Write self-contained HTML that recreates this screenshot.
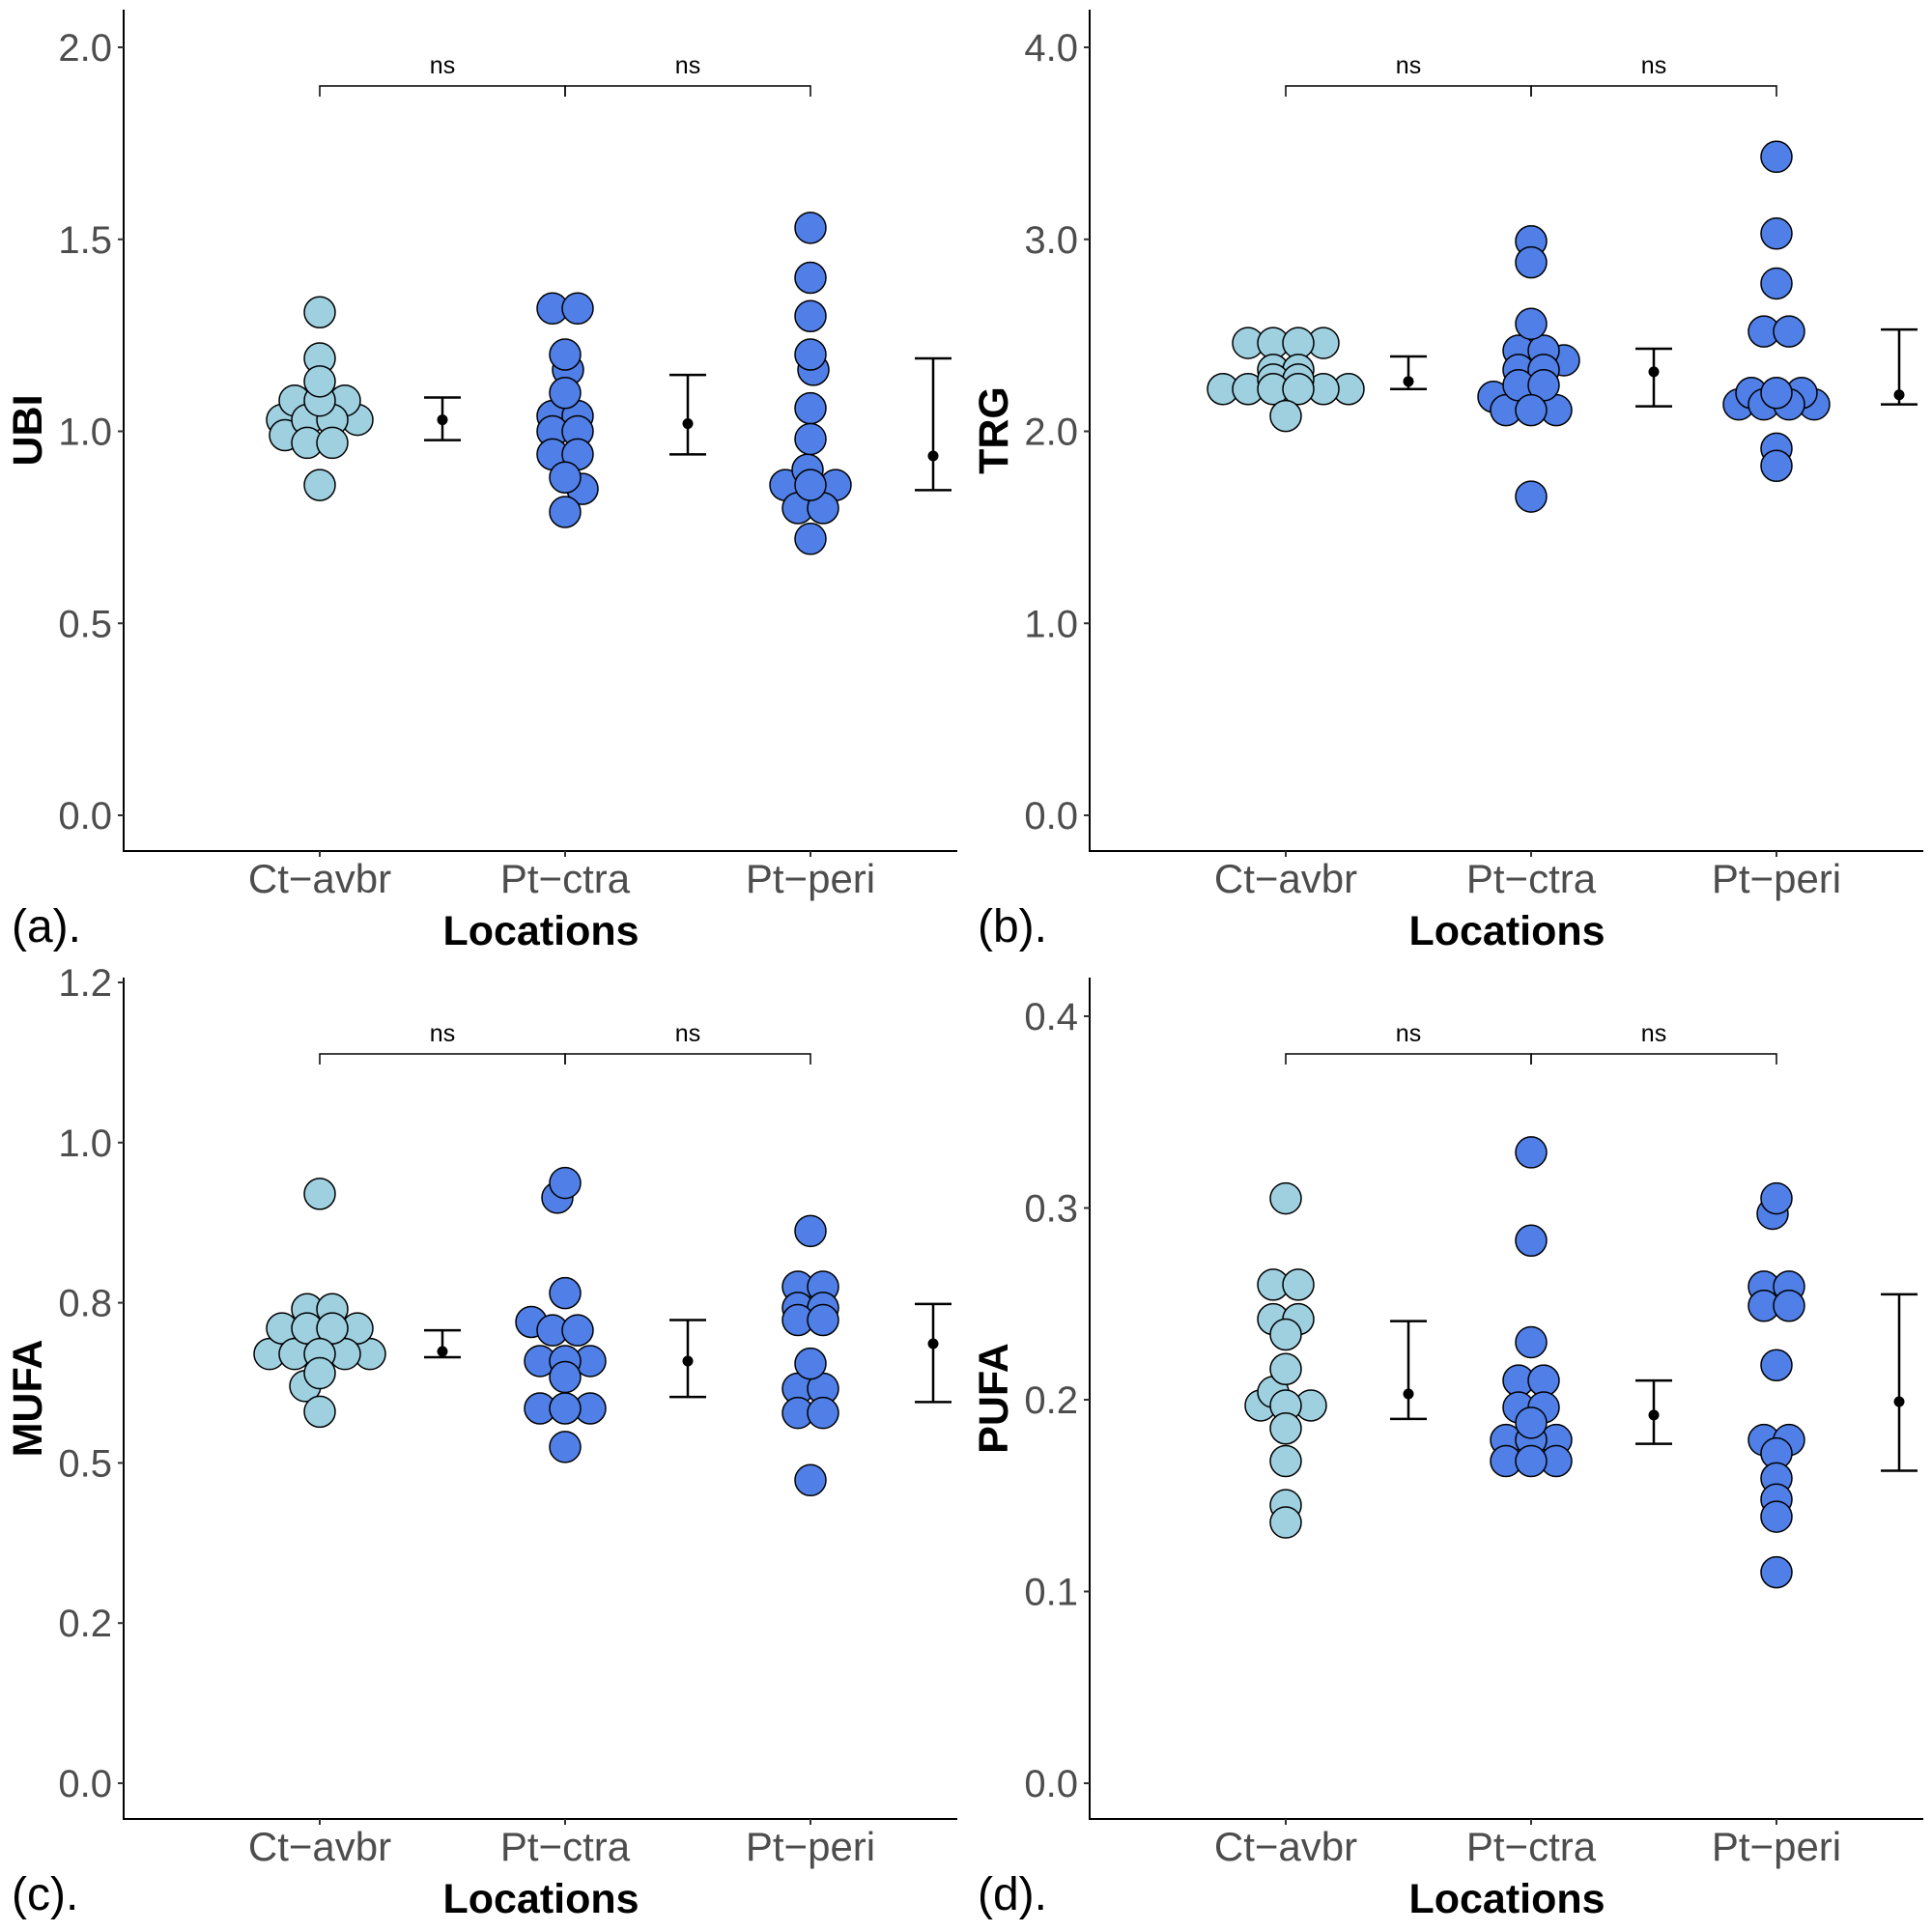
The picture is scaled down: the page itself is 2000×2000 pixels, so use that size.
<!DOCTYPE html>
<html><head><meta charset="utf-8"><style>
html,body{margin:0;padding:0;background:#fff;}
svg{display:block;font-family:"Liberation Sans",Arial,sans-serif;}
</style></head><body>
<svg id="fig" width="2000" height="2000" viewBox="0 0 2000 2000" xmlns="http://www.w3.org/2000/svg"></svg>
<script>
const categories = ["Ct\u2212avbr","Pt\u2212ctra","Pt\u2212peri"];
const panelLetters = ["(a).","(b).","(c).","(d)."];
const yTitles = ["UBI","TRG","MUFA","PUFA"];
const yMaxes = [2.0, 4.0, 1.25, 0.4];
const tickValuesA = [0,0.5,1.0,1.5,2.0];
const tickLabelsA = ["0.0","0.5","1.0","1.5","2.0"];
const tickValuesB = [0,1,2,3,4];
const tickLabelsB = ["0.0","1.0","2.0","3.0","4.0"];
const tickValuesC = [0,0.25,0.5,0.75,1.0,1.25];
const tickLabelsC = ["0.0","0.2","0.5","0.8","1.0","1.2"];
const tickValuesD = [0,0.1,0.2,0.3,0.4];
const tickLabelsD = ["0.0","0.1","0.2","0.3","0.4"];

const ubiCt = [1.31,1.19,1.13,1.08,1.08,1.08,1.03,1.03,1.03,1.03,0.99,0.97,0.97,0.86];
const ubiCtra = [1.32,1.32,1.20,1.16,1.10,1.04,1.04,1.00,1.00,0.94,0.94,0.88,0.85,0.79];
const ubiPeri = [1.53,1.40,1.30,1.20,1.16,1.06,0.98,0.90,0.86,0.86,0.86,0.80,0.80,0.72];
const ubiMean = [1.03,1.02,0.936];
const ubiUpper = [1.088,1.147,1.19];
const ubiLower = [0.977,0.94,0.847];

const trgCt = [2.46,2.46,2.46,2.46,2.32,2.32,2.27,2.27,2.22,2.22,2.22,2.22,2.22,2.22,2.08];
const trgCtra = [2.99,2.88,2.56,2.42,2.42,2.37,2.32,2.32,2.24,2.24,2.18,2.11,2.11,2.11,1.66];
const trgPeri = [3.43,3.03,2.77,2.52,2.52,2.20,2.20,2.20,2.14,2.14,2.14,2.14,1.91,1.82];
const trgMean = [2.26,2.31,2.19];
const trgUpper = [2.39,2.43,2.53];
const trgLower = [2.22,2.13,2.14];

const mufaCt = [0.92,0.74,0.74,0.71,0.71,0.71,0.71,0.67,0.67,0.67,0.67,0.67,0.64,0.62,0.58];
const mufaCtra = [0.937,0.914,0.765,0.72,0.707,0.707,0.659,0.659,0.659,0.634,0.585,0.585,0.585,0.525];
const mufaPeri = [0.862,0.775,0.775,0.742,0.742,0.723,0.723,0.655,0.616,0.616,0.578,0.578,0.473];
const mufaMean = [0.674,0.659,0.686];
const mufaUpper = [0.707,0.723,0.748];
const mufaLower = [0.665,0.603,0.595];

const pufaCt = [0.305,0.26,0.26,0.242,0.242,0.234,0.216,0.204,0.197,0.197,0.197,0.185,0.168,0.145,0.136];
const pufaCtra = [0.329,0.283,0.23,0.21,0.21,0.196,0.196,0.188,0.179,0.179,0.179,0.168,0.168,0.168];
const pufaPeri = [0.305,0.297,0.259,0.259,0.249,0.249,0.218,0.179,0.179,0.172,0.159,0.148,0.139,0.11];
const pufaMean = [0.203,0.192,0.199];
const pufaUpper = [0.241,0.21,0.255];
const pufaLower = [0.19,0.177,0.163];

const NS = "http://www.w3.org/2000/svg";
const svg = document.getElementById("fig");
function mk(tag, attrs, parent){ const e=document.createElementNS(NS,tag); for(const k in attrs) e.setAttribute(k,attrs[k]); (parent||svg).appendChild(e); return e; }

const panels = [
  {ox:0,oy:0,series:[ubiCt,ubiCtra,ubiPeri],mean:ubiMean,up:ubiUpper,lo:ubiLower,tv:tickValuesA,tl:tickLabelsA},
  {ox:1000,oy:0,series:[trgCt,trgCtra,trgPeri],mean:trgMean,up:trgUpper,lo:trgLower,tv:tickValuesB,tl:tickLabelsB},
  {ox:0,oy:1002,series:[mufaCt,mufaCtra,mufaPeri],mean:mufaMean,up:mufaUpper,lo:mufaLower,tv:tickValuesC,tl:tickLabelsC},
  {ox:1000,oy:1002,series:[pufaCt,pufaCtra,pufaPeri],mean:pufaMean,up:pufaUpper,lo:pufaLower,tv:tickValuesD,tl:tickLabelsD}
];
const yTops = [49,49,15,50];
const fills = ["#9ed0e0","#507fe8","#507fe8"];
const R = 16;

panels.forEach((p,pi)=>{
  const g = mk("g",{transform:`translate(${p.ox},${p.oy})`});
  
  
  const y0 = 844, yt = yTops[pi], vmax = yMaxes[pi];
  const ys = v => y0 - v*(y0-yt)/vmax;
  const xs = i => 331 + i*254;
  const ax = mk("path",{d:"M128,10 L128,881 L991,881",fill:"none",stroke:"#000","stroke-width":2},g);
  
  
  p.tv.forEach((v,i)=>{
    mk("line",{x1:122,x2:128,y1:ys(v),y2:ys(v),stroke:"#333","stroke-width":2},g);
    const t = mk("text",{x:116,y:ys(v)+14,"text-anchor":"end","font-size":40,fill:"#4d4d4d"},g);
    t.textContent = p.tl[i];
    
    
  });
  categories.forEach((c,i)=>{
    mk("line",{x1:xs(i),x2:xs(i),y1:881,y2:887,stroke:"#333","stroke-width":2},g);
    const t = mk("text",{x:xs(i),y:924,"text-anchor":"middle","font-size":42,fill:"#4d4d4d"},g);
    t.textContent = c;
    
    
  });
  const xt = mk("text",{x:560,y:978,"text-anchor":"middle","font-size":43,"font-weight":"bold"},g);
  xt.textContent = "Locations";
  
  
  const yT = mk("text",{x:0,y:0,"text-anchor":"middle","font-size":43,"font-weight":"bold",transform:`translate(43,${(10+881)/2}) rotate(-90)`},g);
  yT.textContent = yTitles[pi];
  
  
  const pl = mk("text",{x:12,y:975,"font-size":48},g);
  pl.textContent = panelLetters[pi];
  
  
  const by = 89;
  for(let k=0;k<2;k++){
    const br = mk("path",{d:`M${xs(k)},${by+11} L${xs(k)},${by} L${xs(k+1)},${by} L${xs(k+1)},${by+11}`,fill:"none",stroke:"#000","stroke-width":1.5},g);
    
    
    const ns = mk("text",{x:(xs(k)+xs(k+1))/2,y:by-13,"text-anchor":"middle","font-size":25},g);
    ns.textContent = "ns";
    
    
  }
  p.series.forEach((vals,si)=>{
    const placed = [];
    const counts = {};
    vals.forEach(v=>{counts[v]=(counts[v]||0)+1;});
    const fits = (x,y)=>placed.every(q=>Math.hypot((q.x-x)/26,(q.y-y)/16)>=1);
    // duplicate-value groups: centered rows
    Object.keys(counts).map(Number).sort((a,b)=>b-a).forEach(v=>{
      const n = counts[v];
      if(n<2) return;
      for(let i=0;i<n;i++) placed.push({x:(i-(n-1)/2)*26, y:ys(v)});
    });
    Object.keys(counts).map(Number).sort((a,b)=>b-a).forEach((v,k)=>{
      if(counts[v]!==1) return;
      const y = ys(v);
      let best = 0;
      for(let d=0; d<200; d+=1){
        const cands = (k%2===0)?[d,-d]:[-d,d];
        let ok=null;
        for(const c of cands){ if(fits(c,y)){ok=c;break;} }
        if(ok!==null){best=ok;break;}
      }
      placed.push({x:best,y:y});
    });
    placed.sort((a,b)=>Math.abs(b.x)-Math.abs(a.x)).forEach(q=>{
      const c = mk("circle",{cx:xs(si)+q.x,cy:q.y,r:R,fill:fills[si],stroke:"#000","stroke-width":1.5},g);
      
      
    });
    const ex = xs(si)+127;
    const eb = mk("path",{d:`M${ex-19},${ys(p.up[si])} L${ex+19},${ys(p.up[si])} M${ex},${ys(p.up[si])} L${ex},${ys(p.lo[si])} M${ex-19},${ys(p.lo[si])} L${ex+19},${ys(p.lo[si])}`,fill:"none",stroke:"#000","stroke-width":2.5},g);
    
    
    const md = mk("circle",{cx:ex,cy:ys(p.mean[si]),r:5.5,fill:"#000"},g);
    
    
  });
});
</script>
</body></html>
